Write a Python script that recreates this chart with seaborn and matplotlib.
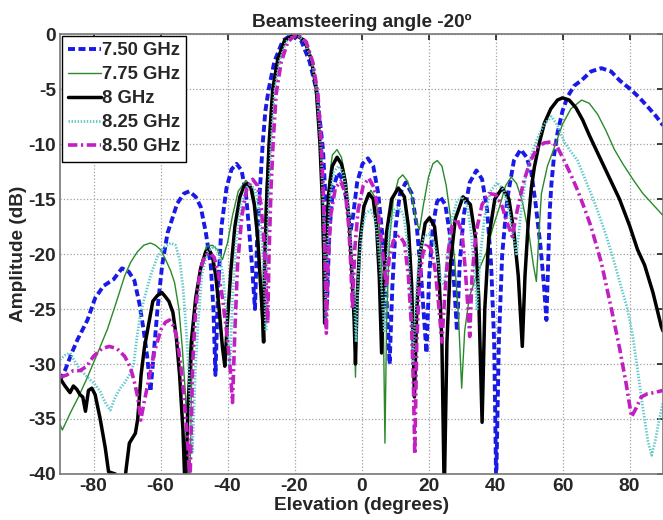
import pandas as pd
import matplotlib
matplotlib.use("Agg")
import matplotlib.pyplot as plt
import seaborn as sns

# values: (elevation deg, amplitude dB)
pts_750 = [(-90,-31.5),(-88.4,-30.5),(-86.5,-29),(-84.8,-27.8),(-81.8,-26),(-79.5,-24),(-77,-22.9),(-74,-22.3),
           (-71.5,-21.3),(-69.5,-21.6),(-67.8,-22.4),(-66.3,-24.5),(-65,-27),(-63.9,-29.5),(-63,-32.5),
           (-62,-29),(-60.9,-25),(-59.5,-21),(-57.9,-18.1),(-55,-15.4),(-53,-14.5),(-51.4,-14.3),(-49.5,-14.8),
           (-48,-15.7),(-46.5,-18),(-45,-21),(-44.2,-25),(-43.6,-31),
           (-42.8,-23),(-41.8,-17.5),(-40.3,-14),(-38.8,-12.3),(-37.3,-11.8),(-35.8,-12.4),(-34.5,-14.5),
           (-33.5,-18),(-32.7,-21),(-31.8,-25),
           (-31.2,-19),(-30.3,-14),(-29.5,-10),(-28.7,-7),(-27.7,-5),(-26,-2.5),(-23.5,-0.6),(-20.5,0),
           (-18,-0.6),(-15.5,-2.5),(-13.5,-5),(-12.2,-8.5),(-11.5,-10.5),(-10.9,-14),(-10.6,-19),(-10.3,-24.5),
           (-9.6,-18),(-8.5,-14),(-7,-12.6),(-5.5,-13.3),(-4.3,-15.5),(-3.3,-18),(-2.5,-16.5),(-1.3,-13.5),
           (0.3,-11.8),(1.9,-11.3),(3.5,-12),(5,-14.5),(6.3,-18.5),(7.3,-23),(8.4,-30),
           (9.2,-23),(10.2,-17.5),(11.5,-14.5),(13.2,-13.5),(15,-14.5),(16.5,-17.5),(17.8,-22),(19.4,-29),
           (20.2,-22),(21.3,-17.5),(22.5,-15.3),(23.5,-14.8),(25,-15.5),(26.3,-18),(27.5,-22),(28.5,-27),
           (29.3,-21),(30.5,-16.5),(32.3,-13.5),(34.3,-12.4),(36,-13.2),(37.5,-16),(38.7,-21),(39.6,-28),(40.2,-41),
           (41,-28),(42,-20),(43.5,-15),(45.5,-11.5),(47.5,-10.5),(49.3,-11.2),(50.7,-12.6),(52,-15.5),
           (53.5,-19.5),(54.5,-23),(55.2,-26),
           (55.7,-21),(56.2,-16),(56.7,-13.6),(57.5,-11),(58.5,-9),(60,-7),(61.5,-5.7),(63.5,-4.7),(65.7,-4.2),
           (68.5,-3.4),(71.6,-3.1),(74.5,-3.4),(77,-4.2),(80.6,-5.1),(83,-5.8),(86,-6.8),(88,-7.5),(90,-8.3)]

pts_775 = [(-90,-35.5),(-89.3,-36),(-87,-34.5),(-84.5,-33),(-81.8,-31.2),(-78.5,-28.8),(-75.8,-26.8),
           (-73,-24.2),(-70.7,-22),(-69,-20.8),(-66.9,-19.8),(-65,-19.2),(-63,-19),(-61.5,-19.2),(-60,-19.6),
           (-58.5,-20.5),(-57,-21.5),(-55.8,-22.6),(-54.5,-25),(-53.5,-28.5),(-52.5,-33),(-51.8,-38),(-51.3,-42),
           (-50.6,-30),(-49.5,-24),(-48,-21),(-46.3,-19.3),(-44.5,-19.2),(-43,-19.6),(-41.5,-20.5),(-40,-19),
           (-38.5,-16.5),(-36.8,-14.3),(-34.5,-13.3),(-32.5,-14),(-31.2,-16.5),(-30.3,-21),(-29.6,-28),
           (-29.2,-20),(-28.5,-14),(-27.7,-10),(-26.6,-5),(-25,-2.3),(-23,-0.6),(-20,0),(-17,-0.6),(-15,-2.3),
           (-13.5,-5),(-12.4,-10),(-11.7,-15),(-11.3,-20),(-11,-25),
           (-10.5,-18),(-9.8,-13.5),(-8.7,-11),(-7.3,-10.5),(-6,-11.2),(-4.8,-13),(-3.7,-16.5),(-2.8,-21.5),
           (-2.2,-26),(-1.8,-31.2),
           (-1.3,-24),(-0.4,-19),(1,-15.5),(2.8,-14.2),(4.3,-15),(5.3,-17.5),(6.1,-22),(6.6,-28),(7,-37.2),
           (7.5,-26),(8.3,-19),(9.5,-15),(11,-13.2),(12.3,-12.8),(13.8,-13.4),(15.2,-15),(16.3,-17),(17.3,-17.8),
           (18.5,-15.5),(20,-13),(21.3,-11.8),(22.6,-11.5),(24,-12),(25.3,-13.8),(26.5,-16.5),(27.8,-20.5),
           (29,-26),(29.9,-32.2),
           (30.8,-27),(32.2,-23.9),(34.5,-21.8),(37.2,-19.9),(39.3,-17.5),(41.2,-15.7),(43,-13.8),(44.7,-13),
           (46.3,-13.6),(48,-15.2),(50.1,-18.4),(51.3,-21),(52.2,-22.5),
           (53,-18),(53.7,-14.5),(55.5,-12),(57.6,-10.3),(60,-8.2),(62.5,-6.8),(65.7,-6),(68,-6.3),(70.5,-7.3),
           (73,-8.8),(75.5,-10.5),(78,-11.8),(81,-13.2),(84,-14.5),(87,-15.5),(90,-16.5)]

pts_800 = [(-90,-31.3),(-88.5,-32),(-87,-32.6),(-86,-32),(-85,-32.3),(-84,-32.8),(-83.2,-33),(-82.4,-34.3),
           (-81.5,-32.4),(-80.5,-32.2),(-79.5,-32.8),(-78,-35),(-76.5,-37.6),(-75.5,-39.8),(-73.5,-40),
           (-72,-41),(-70.8,-41),(-70.2,-39.4),(-69.3,-37.2),(-67.5,-36.3),(-66.8,-35),(-65.8,-31),(-64.8,-28.5),
           (-63.5,-26.3),(-62.3,-24.3),(-61,-23.8),(-59.6,-23.5),(-58.5,-23.9),(-57.5,-24.3),(-56.3,-25.3),
           (-55.3,-27.5),(-54.3,-31),(-53.3,-36),(-52.6,-42),
           (-51.8,-34),(-50.8,-28),(-49.5,-24),(-48,-21.3),(-46.5,-19.8),(-45.5,-19.6),(-44.5,-20.2),
           (-43.5,-22),(-42.5,-25),(-41.5,-28.5),(-40.8,-30.2),
           (-40,-26),(-39,-21.5),(-37.8,-17.5),(-36.3,-14.8),(-35,-13.8),(-34,-13.6),(-33,-14),(-32,-15.5),
           (-31,-18.5),(-30.2,-22.5),(-29.5,-26),(-29.2,-28),
           (-28.9,-21),(-28.3,-15),(-27.6,-10),(-26.5,-5),(-25,-2.3),(-23,-0.6),(-20,0),(-17,-0.6),(-15,-2.3),
           (-13.5,-5),(-12.4,-10),(-11.7,-15),(-11.3,-20),(-11,-26.3),
           (-10.5,-19),(-9.8,-14.5),(-8.7,-12),(-7.3,-11.2),(-6,-11.8),(-4.8,-13.5),(-3.7,-17),(-2.8,-22),
           (-2.2,-26),(-1.8,-30),
           (-1.3,-24),(-0.5,-19),(0.7,-15.7),(2.2,-14.5),(3.5,-15),(4.5,-17.5),(5.3,-22),(6,-29),
           (6.6,-23),(7.5,-18),(9,-15),(11,-14),(12.8,-14.8),(14,-17.5),(15,-23),(15.8,-33),
           (16.5,-25),(17.5,-20),(19,-17.2),(20.3,-16.7),(21.8,-17.5),(23,-21),(24,-28),(24.7,-42),
           (25.5,-28),(26.5,-21),(28,-16.8),(30.3,-14.8),(32.5,-15.5),(34,-18.5),(35,-24),(36,-35.3),
           (36.8,-25),(38,-18.5),(39.8,-15),(42,-14),(44,-15),(45.5,-18),(46.8,-22),(48,-28.4),
           (48.8,-22),(49.8,-17),(50.7,-14),(51.6,-12.1),(53,-10),(54.6,-8.1),(56.5,-6.8),(58.5,-6),(60,-5.8),
           (62,-6),(64,-6.7),(66,-7.8),(68,-9.2),(70,-10.5),(72.5,-12.1),(77,-15),(80,-17.4),(82.4,-19.6),
           (84.5,-21),(87,-23.5),(89.5,-26.6),(90,-27)]

pts_825 = [(-90,-29.6),(-88.5,-29.2),(-87,-29),(-85.5,-29.8),(-84,-30.5),(-81.8,-31.2),(-79.7,-31.8),
           (-78,-32.5),(-76.5,-33.5),(-75,-34.2),(-73.5,-33),(-72,-32.2),(-70.7,-31.7),(-69.3,-31),(-68,-30),
           (-67,-27.5),(-66,-25.5),(-64.8,-24),(-63,-22),(-61,-20.3),(-59,-19.4),(-57,-19),(-55.5,-19.2),
           (-54.3,-20.5),(-53.3,-23),(-52.3,-27),(-51.5,-31),(-50.5,-38),
           (-49.5,-30),(-48.7,-26),(-47.7,-22),(-46,-19.8),(-44,-19.3),(-42.5,-20),(-41.3,-22),(-40.3,-25.5),
           (-39.3,-30.5),
           (-38.5,-24),(-37.5,-19),(-36,-15.5),(-34.5,-14),(-33.2,-13.6),(-31.8,-14.2),(-30.5,-16),(-29.6,-19.5),
           (-29,-23),(-28.5,-27),
           (-28.2,-20),(-27.6,-14),(-27,-10),(-26,-5.3),(-24.5,-2.5),(-22.5,-0.7),(-19.6,0),(-16.8,-0.7),
           (-14.8,-2.5),(-13.3,-5.3),(-12.2,-10),(-11.5,-15),(-11,-20),(-10.6,-26),
           (-10.1,-19),(-9.3,-14.5),(-8.2,-12.5),(-6.8,-12),(-5.5,-12.6),(-4.3,-14.5),(-3.3,-18),(-2.4,-22.5),
           (-1.6,-28),
           (-1,-22),(0,-18),(1.3,-16.3),(2.7,-16),(4,-16.8),(5,-19),(6,-23),(6.8,-27),
           (7.5,-21),(8.5,-17.5),(9.8,-16),(11.2,-15.8),(12.6,-16.5),(13.7,-19),(14.6,-23.5),(15.4,-30),
           (16.2,-24),(17.3,-20),(18.7,-18.4),(20,-18.2),(21.5,-18.8),(22.7,-20.3),(23.8,-22.5),(24.7,-22.8),
           (25.7,-20),(27,-16.8),(28.5,-15.2),(30,-14.8),(31.5,-15.5),(32.7,-18),(33.7,-21.5),(34.5,-25),
           (35.5,-20),(36.8,-16.5),(38.5,-14.3),(40.5,-13.5),(42.5,-14.2),(44,-16),(45.3,-18.5),(46.3,-20),
           (47.5,-16.5),(49,-13),(50.7,-11),(52.5,-9.5),(54.5,-8.2),(56.7,-7.5),(58.5,-8.3),(60.5,-9.8),
           (62.5,-10.7),(64.5,-11.5),(66.5,-13),(68.5,-14.5),(70.4,-16),(73,-18.3),(75.5,-20.8),(77.5,-23),
           (79.4,-25),(81,-27.5),(82.4,-30.5),(84,-34),(85.5,-37),(86.6,-38.3),(87.7,-37),(88.7,-35.3),
           (89.5,-34.2),(90,-33.5)]

pts_850 = [(-90,-31.2),(-88,-31),(-86,-30.6),(-84,-30.6),(-82,-30.2),(-80,-29.3),(-77.5,-28.6),(-75.3,-28.4),
           (-73,-28.6),(-70.7,-29.3),(-69,-30.3),(-67.9,-31.5),(-66.8,-33),(-65.9,-35.1),(-64.9,-33.5),
           (-63.9,-32),(-61.9,-29),(-59.9,-26.9),(-58.5,-26.2),(-57.3,-26),(-56,-26.6),(-55,-27.8),(-54,-30),
           (-53,-33),(-52,-36.5),(-51.2,-41),
           (-50.4,-30),(-49.5,-25),(-48.2,-21.5),(-46.8,-20.2),(-45.4,-19.9),(-44,-20.3),(-42.7,-21.8),
           (-41.5,-24),(-40.3,-27),(-39.3,-30),(-38.5,-33.5),
           (-37.8,-27),(-37,-21),(-35.7,-16.5),(-34.2,-14),(-32.5,-13.2),(-31,-13.8),(-30,-15.5),(-29.2,-18.5),
           (-28.6,-22),(-28,-26.3),
           (-27.6,-20),(-27,-14),(-26.4,-10),(-25.5,-5.5),(-24,-2.6),(-22,-0.7),(-19.3,0),(-16.5,-0.7),
           (-14.5,-2.6),(-13,-5.5),(-12,-10),(-11.3,-15),(-10.9,-20),(-10.5,-27.2),
           (-10,-21),(-9.2,-16.5),(-7.8,-14),(-6.2,-13.4),(-4.8,-14.5),(-3.8,-17.5),(-3.2,-21),(-2.7,-25),
           (-2,-19.5),(-1,-16),(0.5,-13.8),(2.2,-13.1),(3.8,-14),(5,-16.2),(6.2,-19.5),(7.4,-23),
           (8.3,-20.3),(9.5,-18.8),(11.3,-18.3),(12.8,-19),(14,-22),(15,-27),(15.5,-32),(15.9,-38.2),
           (16.5,-28),(17.3,-22.5),(18.3,-20),(19.5,-19),(20.8,-19.6),(22,-21.5),(23,-24.5),(24,-28),
           (24.8,-24),(25.8,-20),(27,-17.5),(28.5,-16.8),(30,-18),(31,-21.5),(31.8,-25),(32.3,-27.5),
           (33,-22),(34.2,-18),(36,-15.5),(38,-14.5),(40,-14.6),(41.8,-15.5),(43.3,-17),(45,-18.4),
           (46.5,-16),(48.5,-13.3),(50.5,-11.5),(52.5,-10.3),(54.5,-9.9),(56.7,-9.8),(58.5,-10.3),(60.5,-11.5),
           (62.5,-12.8),(64.5,-14.2),(66.5,-15.8),(68.5,-17.5),(71.6,-20.8),(74.6,-25),(77,-28.5),(79,-31.8),
           (80.6,-34.8),(82,-34),(83.5,-33),(85.4,-32.7),(87.5,-32.6),(90,-32.4)]

labels = ["7.50 GHz", "7.75 GHz", "8 GHz", "8.25 GHz", "8.50 GHz"]
series = [pts_750, pts_775, pts_800, pts_825, pts_850]

rows = []
for lab, pts in zip(labels, series):
    for a, v in pts:
        rows.append({"elev": a, "amp": v, "freq": lab})
df = pd.DataFrame(rows)

colors = {"7.50 GHz": "#1a1ae6", "7.75 GHz": "#2a8a2a", "8 GHz": "#000000",
          "8.25 GHz": "#5cc8c8", "8.50 GHz": "#c21fc2"}
widths = {"7.50 GHz": 2.8, "7.75 GHz": 1.0, "8 GHz": 2.5, "8.25 GHz": 2.0, "8.50 GHz": 2.6}
dashes = {"7.50 GHz": (1.8, 0.9), "7.75 GHz": "", "8 GHz": "",
          "8.25 GHz": (0.5, 0.6), "8.50 GHz": (2.6, 1.0, 0.6, 1.0)}

sns.set_theme(style="white")
plt.rcParams['font.family'] = ['Liberation Sans', 'DejaVu Sans']
plt.rcParams['axes.unicode_minus'] = False

fig = plt.figure(figsize=(6.63, 5.20), dpi=100)
ax = fig.add_axes([0.0905, 0.0885, 0.9095, 0.846])

for lab in labels:
    sub = df[df["freq"] == lab]
    sns.lineplot(data=sub, x="elev", y="amp", ax=ax, color=colors[lab], lw=widths[lab],
                 dashes=dashes[lab] if dashes[lab] else (None, None), sort=False,
                 estimator=None, label=lab)

ax.set_xlim(-90, 90)
ax.set_ylim(-40, 0)
ax.set_xticks(range(-80, 81, 20))
ax.set_yticks(range(-40, 1, 5))
ax.grid(True, linestyle=":", color="#a0a0a0", lw=0.9)
ax.tick_params(direction="in", length=4, top=True, right=True, labelsize=13.8, pad=3)
for t in ax.get_xticklabels() + ax.get_yticklabels():
    t.set_fontweight("bold")
for s in ax.spines.values():
    s.set_color("#777777")
    s.set_linewidth(1.2)

ax.set_xlabel("Elevation (degrees)", fontsize=13.7, fontweight="bold", labelpad=1.5)
ax.set_ylabel("Amplitude (dB)", fontsize=13.7, fontweight="bold", labelpad=1)
ax.set_title("Beamsteering angle -20º", fontsize=13.7, fontweight="bold", pad=5)

leg = ax.legend(loc="upper left", prop={"weight": "bold", "size": 13.3}, handlelength=1.75,
                handletextpad=0.05, labelspacing=0.38, borderaxespad=0.1, borderpad=0.35,
                fancybox=False, framealpha=1, edgecolor="black")
leg.get_frame().set_linewidth(1.0)

plt.savefig("out.png", dpi=100)
